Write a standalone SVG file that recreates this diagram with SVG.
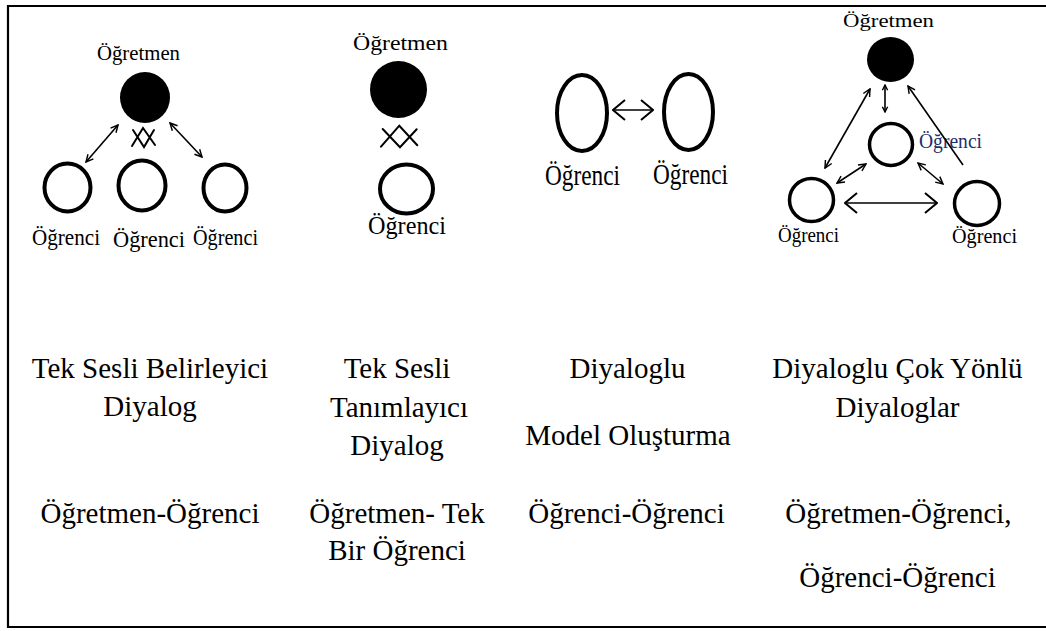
<svg xmlns="http://www.w3.org/2000/svg" width="1046" height="631" viewBox="0 0 1046 631" font-family="'Liberation Serif', 'DejaVu Serif', 'Times New Roman', serif">
  <style>
    text { font-family: 'Liberation Serif', 'DejaVu Serif', 'Times New Roman', serif; fill: #000; }
    .cap { font-size: 29px; text-anchor: middle; }
    .teacher { fill: #000; stroke: none; }
    .student { fill: none; stroke: #000; stroke-width: 4; }
    .student4 { fill: none; stroke: #000; stroke-width: 3.5; }
    .link { fill: none; stroke: #000; stroke-width: 1.6; }
    .blocked { fill: none; stroke: #000; stroke-width: 2; stroke-linecap: round; }
    .frame { fill: none; stroke: #000; stroke-width: 2.2; }
  </style>
  <defs>
    <marker id="head" viewBox="0 0 10 10" refX="9" refY="5" markerWidth="9" markerHeight="9" markerUnits="userSpaceOnUse" orient="auto-start-reverse">
      <path d="M1,1 L9,5 L1,9" fill="none" stroke="#000" stroke-width="1.6"/>
    </marker>
    <marker id="headL" viewBox="0 0 14 22" refX="13" refY="11" markerWidth="14" markerHeight="22" markerUnits="userSpaceOnUse" orient="auto-start-reverse">
      <path d="M1,1 L13,11 L1,21" fill="none" stroke="#000" stroke-width="2"/>
    </marker>
    <marker id="headS" viewBox="0 0 8 8" refX="7" refY="4" markerWidth="7" markerHeight="8" markerUnits="userSpaceOnUse" orient="auto-start-reverse">
      <path d="M1,1 L7,4 L1,7" fill="none" stroke="#000" stroke-width="1.6"/>
    </marker>
  </defs>

  <rect width="1046" height="631" fill="#fff"/>
  <path class="frame" d="M1046,6 H8 V627 H1046"/>

  <!-- Column 1: one teacher, three students -->
  <g id="c1-teacher">
    <ellipse class="teacher" cx="145" cy="97.5" rx="25" ry="25.5"/>
    <text x="97" y="60" font-size="21" textLength="83" lengthAdjust="spacingAndGlyphs">Öğretmen</text>
  </g>
  <g id="c1-student-a">
    <ellipse class="student" cx="67.5" cy="187.5" rx="23" ry="24"/>
    <text x="32" y="245" font-size="24" textLength="68" lengthAdjust="spacingAndGlyphs">Öğrenci</text>
  </g>
  <g id="c1-student-b">
    <ellipse class="student" cx="142" cy="185.5" rx="23.5" ry="25"/>
    <text x="113" y="247" font-size="24" textLength="72" lengthAdjust="spacingAndGlyphs">Öğrenci</text>
  </g>
  <g id="c1-student-c">
    <ellipse class="student" cx="225" cy="188" rx="21.5" ry="23.5"/>
    <text x="193" y="245" font-size="24" textLength="65" lengthAdjust="spacingAndGlyphs">Öğrenci</text>
  </g>

  <!-- Column 2: one teacher, one student -->
  <g id="c2-teacher">
    <ellipse class="teacher" cx="398.5" cy="89.5" rx="28.5" ry="28.5"/>
    <text x="353" y="50" font-size="22" textLength="95" lengthAdjust="spacingAndGlyphs">Öğretmen</text>
  </g>
  <g id="c2-student">
    <ellipse class="student" cx="406.5" cy="189" rx="26.5" ry="24.5"/>
    <text x="368" y="234" font-size="25" textLength="78" lengthAdjust="spacingAndGlyphs">Öğrenci</text>
  </g>

  <!-- Column 3: two students -->
  <g id="c3-student-a">
    <ellipse class="student" cx="582" cy="113" rx="25" ry="38" stroke-width="4.5"/>
    <text x="545" y="185" font-size="29" textLength="75" lengthAdjust="spacingAndGlyphs">Öğrenci</text>
  </g>
  <g id="c3-student-b">
    <ellipse class="student" cx="688.5" cy="112" rx="24.5" ry="38" stroke-width="4.5"/>
    <text x="653" y="184" font-size="29" textLength="75" lengthAdjust="spacingAndGlyphs">Öğrenci</text>
  </g>

  <!-- Column 4: teacher and three students, all linked -->
  <g id="c4-teacher">
    <ellipse class="teacher" cx="890.5" cy="59.5" rx="23.5" ry="22.5"/>
    <text x="843" y="27" font-size="19" textLength="91" lengthAdjust="spacingAndGlyphs">Öğretmen</text>
  </g>
  <g id="c4-student-mid">
    <ellipse class="student4" cx="891" cy="144.5" rx="21.5" ry="21"/>
    <text x="919" y="148" font-size="20" textLength="63" lengthAdjust="spacingAndGlyphs" style="fill:#1c2f6b">Öğrenci</text>
  </g>
  <g id="c4-student-left">
    <ellipse class="student4" cx="811.5" cy="200" rx="22" ry="21.5"/>
    <text x="778" y="242" font-size="20" textLength="61" lengthAdjust="spacingAndGlyphs">Öğrenci</text>
  </g>
  <g id="c4-student-right">
    <ellipse class="student4" cx="977" cy="203.5" rx="22.5" ry="22"/>
    <text x="952" y="243" font-size="20" textLength="65" lengthAdjust="spacingAndGlyphs">Öğrenci</text>
  </g>

  <!-- Connectors -->
  <g id="connectors">
    <line class="link" x1="86" y1="162" x2="118" y2="125" marker-start="url(#head)" marker-end="url(#head)"/>
    <line class="link" x1="170" y1="123" x2="202" y2="157" marker-start="url(#head)" marker-end="url(#head)"/>
    <path class="blocked" d="M132,146 L143,128 L155,145 M133,130 L144,147 L154,130"/>
    <path class="blocked" d="M381,146.7 L399.3,125.7 L417.3,145.3 M382.7,129 L400,147.3 L416.7,129.3"/>
    <line class="link" x1="613" y1="110" x2="653" y2="110" stroke-width="2" marker-start="url(#headL)" marker-end="url(#headL)"/>
    <line class="link" x1="825" y1="168" x2="870" y2="89" marker-start="url(#head)" marker-end="url(#head)"/>
    <line class="link" x1="885" y1="85" x2="885" y2="112" stroke-width="2" marker-start="url(#headS)" marker-end="url(#headS)"/>
    <line class="link" x1="963" y1="165" x2="908" y2="86" marker-end="url(#head)"/>
    <line class="link" x1="837" y1="183" x2="866" y2="164" marker-start="url(#head)" marker-end="url(#head)"/>
    <line class="link" x1="918" y1="163" x2="943" y2="184" marker-start="url(#head)" marker-end="url(#head)"/>
    <line class="link" x1="845" y1="203" x2="937" y2="203" stroke-width="2" marker-start="url(#headL)" marker-end="url(#headL)"/>
  </g>

  <!-- Captions -->
  <g id="caption-1">
    <text class="cap" x="150" y="378">Tek Sesli Belirleyici</text>
    <text class="cap" x="150" y="416">Diyalog</text>
    <text class="cap" x="150" y="523">Öğretmen-Öğrenci</text>
  </g>
  <g id="caption-2">
    <text class="cap" x="397" y="378">Tek Sesli</text>
    <text class="cap" x="399" y="417">Tanımlayıcı</text>
    <text class="cap" x="397" y="455">Diyalog</text>
    <text class="cap" x="397" y="523">Öğretmen- Tek</text>
    <text class="cap" x="397" y="560">Bir Öğrenci</text>
  </g>
  <g id="caption-3">
    <text class="cap" x="627.5" y="378">Diyaloglu</text>
    <text class="cap" x="628" y="445">Model Oluşturma</text>
    <text class="cap" x="626.5" y="523">Öğrenci-Öğrenci</text>
  </g>
  <g id="caption-4">
    <text class="cap" x="897.5" y="378">Diyaloglu Çok Yönlü</text>
    <text class="cap" x="897.5" y="417">Diyaloglar</text>
    <text class="cap" x="898.5" y="523">Öğretmen-Öğrenci,</text>
    <text class="cap" x="897.5" y="587">Öğrenci-Öğrenci</text>
  </g>
</svg>
